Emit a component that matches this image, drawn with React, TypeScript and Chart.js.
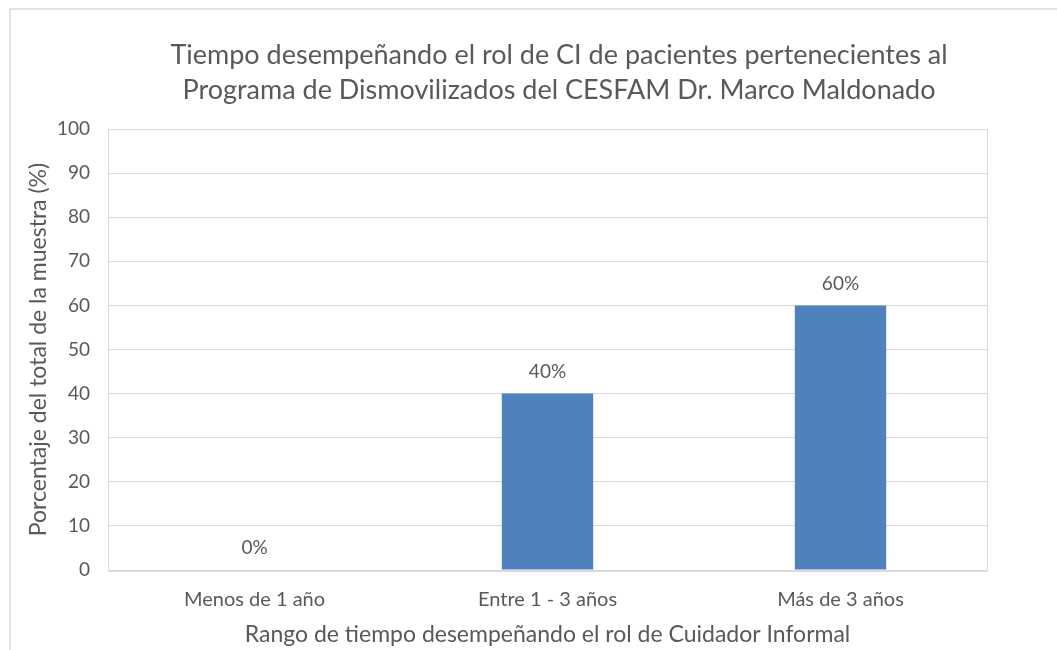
import React, { useEffect, useRef } from "react";
import { Chart, registerables } from "chart.js";

Chart.register(...registerables);

const categories = ["Menos de 1 año", "Entre 1 - 3 años", "Más de 3 años"];
const values = [0, 40, 60];
const valueLabels = ["0%", "40%", "60%"];
const titleLines = [
  "Tiempo desempeñando el rol de CI de pacientes pertenecientes al",
  "Programa de Dismovilizados del CESFAM Dr. Marco Maldonado",
];
const yTitle = "Porcentaje del total de la muestra (%)";
const xTitle = "Rango de tiempo desempeñando el rol de Cuidador Informal";

const FONT = "Lato";
const TEXT = "#595959";
const GRID = "#d9d9d9";
const BAR = "#4F81BD";

const framePlugin = {
  id: "frame",
  beforeDraw(chart: any) {
    const ctx = chart.ctx;
    ctx.save();
    ctx.fillStyle = "#ffffff";
    ctx.fillRect(0, 0, chart.width, chart.height);
    ctx.strokeStyle = GRID;
    ctx.lineWidth = 1.5;
    ctx.strokeRect(10, 9, 1200, 800);
    ctx.restore();
  },
  afterDraw(chart: any) {
    const ctx = chart.ctx;
    const a = chart.chartArea;
    ctx.save();
    ctx.strokeStyle = GRID;
    ctx.lineWidth = 1;
    ctx.strokeRect(Math.round(a.left) + 0.5, Math.round(a.top) + 0.5, Math.round(a.right - a.left), Math.round(a.bottom - a.top));
    ctx.lineWidth = 2;
    ctx.beginPath();
    ctx.moveTo(a.left, Math.round(a.bottom) + 1);
    ctx.lineTo(a.right, Math.round(a.bottom) + 1);
    ctx.stroke();
    ctx.fillStyle = TEXT;
    ctx.font = `27px ${FONT}`;
    ctx.textAlign = "center";
    ctx.textBaseline = "middle";
    ctx.fillText(titleLines[0], 559, 55);
    ctx.fillText(titleLines[1], 559, 90);
    ctx.restore();
  },
  afterDatasetsDraw(chart: any) {
    const ctx = chart.ctx;
    const meta = chart.getDatasetMeta(0);
    ctx.save();
    ctx.fillStyle = TEXT;
    ctx.font = `19px ${FONT}`;
    ctx.textAlign = "center";
    ctx.textBaseline = "middle";
    meta.data.forEach((bar: any, i: number) => {
      ctx.fillText(valueLabels[i], bar.x, bar.y - 22);
    });
    ctx.restore();
  },
};

export default function App() {
  const ref = useRef<HTMLCanvasElement | null>(null);
  useEffect(() => {
    document.body.style.margin = "0";
    const chart = new Chart(ref.current as HTMLCanvasElement, {
      type: "bar",
      data: {
        labels: categories,
        datasets: [
          {
            data: values,
            backgroundColor: BAR,
            barPercentage: 0.312,
            categoryPercentage: 1,
          },
        ],
      },
      options: {
        animation: false,
        responsive: false,
        events: [],
        layout: { padding: { left: 21, right: 70, top: 129, bottom: 0 } },
        plugins: { legend: { display: false }, title: { display: false }, tooltip: { enabled: false } },
        scales: {
          x: {
            grid: { display: false, drawTicks: false },
            border: { display: false },
            ticks: { color: TEXT, font: { family: FONT, size: 20 }, padding: 18 },
            title: { display: true, text: xTitle, color: TEXT, font: { family: FONT, size: 23 }, padding: 2 },
            afterFit(scale: any) {
              scale.height = 80;
            },
          },
          y: {
            min: 0,
            max: 100,
            ticks: { stepSize: 10, color: TEXT, font: { family: FONT, size: 19 }, padding: 18 },
            grid: { color: GRID, drawTicks: false, lineWidth: 1 },
            border: { display: false },
            title: { display: true, text: yTitle, color: TEXT, font: { family: FONT, size: 23 }, padding: 4 },
            afterFit(scale: any) {
              scale.width = 87;
            },
          },
        },
      },
      plugins: [framePlugin],
    });
    return () => chart.destroy();
  }, []);
  return (
    <div style={{ position: "relative", width: 1057, height: 650 }}>
      <canvas ref={ref} width={1057} height={650} style={{ display: "block" }} />
    </div>
  );
}
